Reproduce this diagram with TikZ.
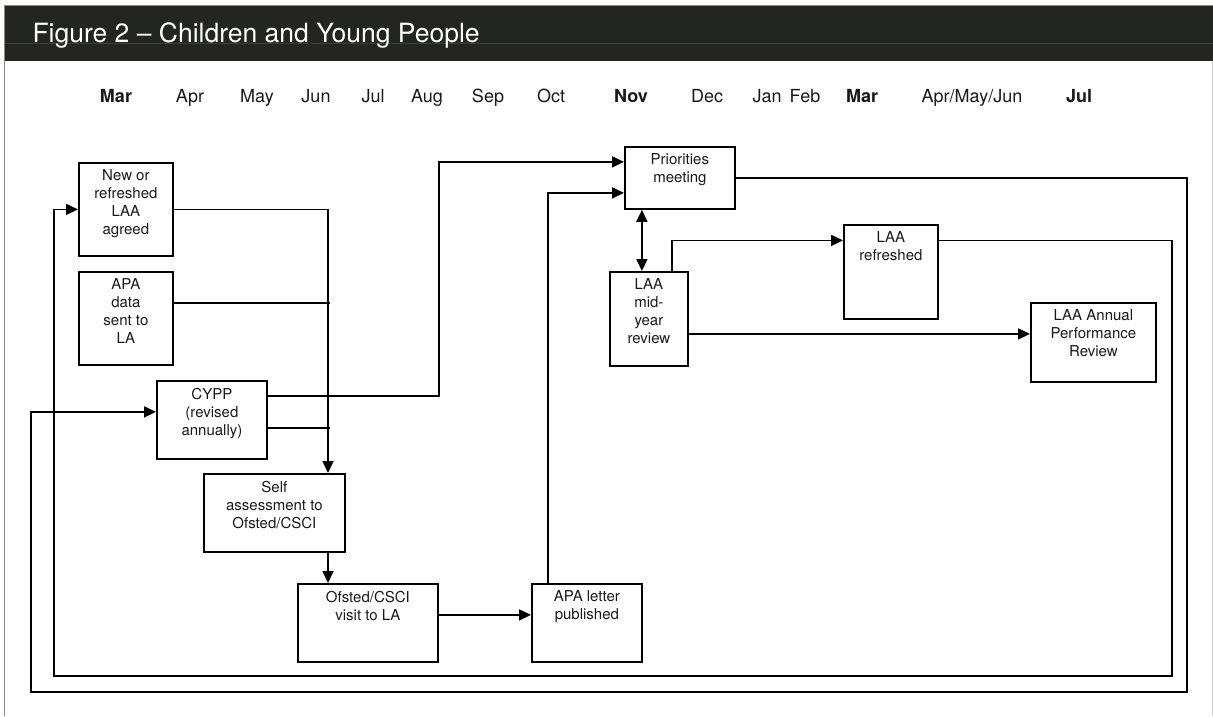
\documentclass[tikz,border=0pt]{standalone}
\usepackage{fontspec}
\setmainfont{TeX Gyre Heros}
\usetikzlibrary{arrows.meta}
\definecolor{bandgrey}{HTML}{232521}
\definecolor{framegrey}{HTML}{8A8A8A}
\definecolor{framelight}{HTML}{D2D2D2}
\newcommand{\stagetext}[3]{\parbox[t][#2][t]{#1}{\centering\vspace*{7pt}#3}}

\begin{document}
\begin{tikzpicture}[x=1pt,y=-1pt,>={Triangle[length=12pt,width=11pt]},
    stage/.style={draw,line width=1.8pt,inner sep=0pt,anchor=north west,text=black!90,font=\fontsize{15}{18}\selectfont},
    flow/.style={line width=1.7pt},
    month/.style={anchor=base,text=black!90,font=\fontsize{18}{20}\selectfont#1}]

    \useasboundingbox (0,0) rectangle (1213,716);

    % frame and title band
    \fill[bandgrey] (4,5) rectangle (1213,61);
    \draw[bandgrey!88!white,line width=0.6pt] (5,43) -- (1213,43);
    \draw[framegrey,line width=0.8pt] (4,5) -- (1213,5);
    \draw[framegrey,line width=1pt] (4.5,5) -- (4.5,716);
    \draw[framelight,line width=1pt] (1212,61) -- (1212,716);
    \node[anchor=base west,text=white,font=\fontsize{26.5}{30}\selectfont] (title) at (29,42) {Figure 2 – Children and Young People};

    % months
    \foreach \x/\m/\w [count=\i] in {116/Mar/\bfseries,190/Apr/\mdseries,257/May/\mdseries,316/Jun/\mdseries,
        373/Jul/\mdseries,427/Aug/\mdseries,488/Sep/\mdseries,551/Oct/\mdseries,631/Nov/\bfseries,
        707/Dec/\mdseries,767/Jan/\mdseries,805/Feb/\mdseries,862/Mar/\bfseries,
        972/{Apr/May/Jun}/\mdseries,1079/Jul/\bfseries}
        \node[month=\w] (m\i) at (\x,102) {\m};

    % stages
    \node[stage] (agreed) at (78,162) {\stagetext{94pt}{93pt}{New or\\refreshed\\LAA\\agreed}};
    \node[stage] (apadata) at (78,271) {\stagetext{94pt}{93pt}{APA\\data\\sent to\\LA}};
    \node[stage] (cypp) at (156,380) {\stagetext{110pt}{78pt}{CYPP\\(revised\\annually)}};
    \node[stage] (self) at (203,473) {\stagetext{141pt}{78pt}{Self\\assessment to\\Ofsted/CSCI}};
    \node[stage] (visit) at (297,583) {\stagetext{140pt}{78pt}{Ofsted/CSCI\\visit to LA}};
    \node[stage] (letter) at (531,583) {\stagetext{110pt}{78pt}{APA letter\\published}};
    \node[stage] (prio) at (624,146) {\stagetext{110pt}{62pt}{Priorities\\meeting}};
    \node[stage] (midyear) at (609,271) {\stagetext{78pt}{94pt}{LAA\\mid-\\year\\review}};
    \node[stage] (refreshed) at (843,224) {\stagetext{94pt}{94pt}{LAA\\refreshed}};
    \node[stage] (apr) at (1030,302) {\stagetext{125pt}{79pt}{LAA Annual\\Performance\\Review}};

    % connectors
    \coordinate (jn) at (328,0);
    \draw[flow,->] (agreed.east) -| (self.north -| jn);
    \draw[flow] ([yshift=15.5]apadata.east) -- ++(156,0);
    \draw[flow] ([yshift=-8]cypp.east) -- ++(62,0);
    \draw[flow,->] ([yshift=24]cypp.east) -- ++(171,0) |- ([yshift=16]prio.west);
    \draw[flow,->] (self.south -| jn) -- (visit.north -| jn);
    \draw[flow,->] ([yshift=8]visit.east) -- ([yshift=8]letter.west);
    \draw[flow,->] ([xshift=-39]letter.north) |- ([yshift=-15]prio.west);

    \coordinate (midtop) at ([xshift=-7]midyear.north);
    \draw[flow,<->] (midtop) -- (midtop |- prio.south);
    \draw[flow,->] ([xshift=23]midyear.north) |- ([yshift=31.5]refreshed.west);
    \draw[flow,->] ([yshift=-15]midyear.east) -- ([yshift=8.5]apr.west);

    % feedback loops
    \coordinate (outerR) at (1187,692);
    \coordinate (outerL) at (31,692);
    \draw[flow,->] (prio.east) -| (outerR) -- (outerL) |- ([yshift=8]cypp.west);
    \coordinate (innerR) at (1172,676);
    \coordinate (innerL) at (54,676);
    \draw[flow,->] ([yshift=31.5]refreshed.east) -| (innerR) -- (innerL) |- (agreed.west);
\end{tikzpicture}
\end{document}
